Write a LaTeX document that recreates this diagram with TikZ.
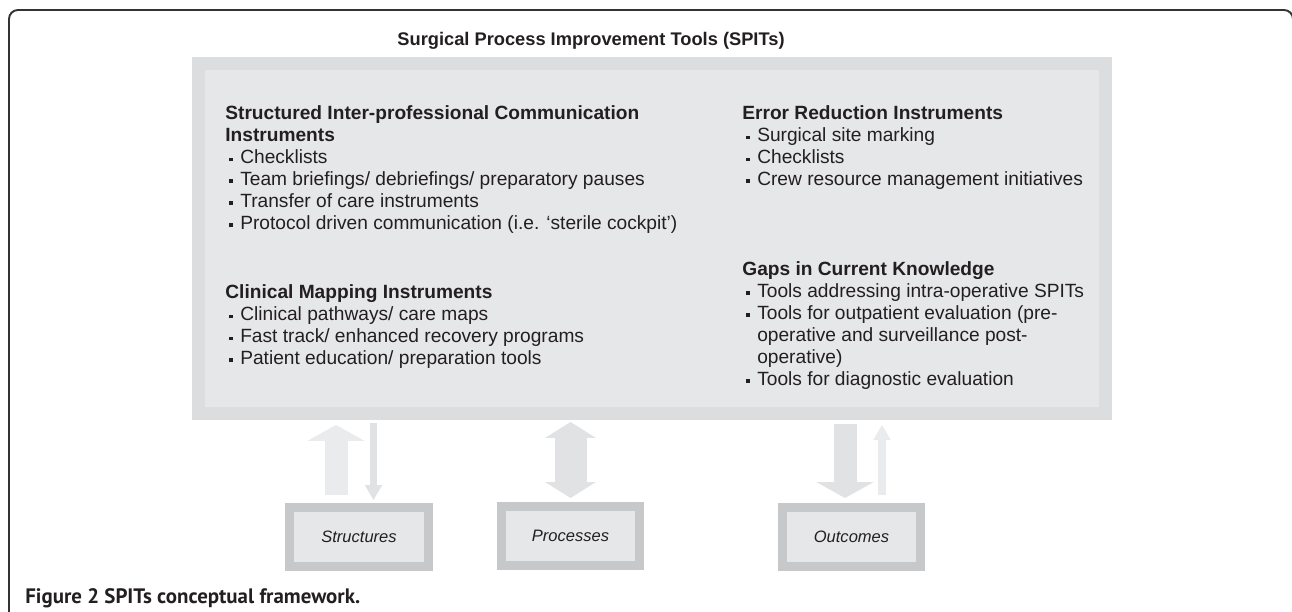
\documentclass[tikz,border=0pt]{standalone}
\usepackage{fontspec}
\setmainfont{Liberation Sans}
\newfontfamily\capfont{PT Sans}
\usetikzlibrary{arrows.meta}

\definecolor{framegrey}{HTML}{DCDDDF}
\definecolor{panelgrey}{HTML}{E6E7E8}
\definecolor{edgegrey}{HTML}{C7C8CA}
\definecolor{arrowlight}{HTML}{EAEBEC}
\definecolor{arrowgrey}{HTML}{E1E2E4}
\definecolor{inkgrey}{HTML}{231F20}

\newcommand{\bul}{\hspace*{2.3pt}\rule[1.3pt]{2.1pt}{2.1pt}\hspace*{4.1pt}}
\newcommand{\ind}{\hspace*{8.5pt}}

\tikzset{
  spitsbox/.style={draw=framegrey, fill=panelgrey, line width=0.26cm,
    minimum width=18.14cm, minimum height=7cm, inner sep=0pt},
  levelbox/.style={draw=edgegrey, fill=panelgrey, line width=0.18cm,
    minimum width=2.78cm, minimum height=1.18cm, inner sep=0pt,
    text=inkgrey, font=\fontsize{9.4pt}{11pt}\selectfont\itshape},
  listblock/.style={anchor=north west, inner sep=0pt, align=left,
    text=inkgrey, font=\fontsize{10.9pt}{12.5pt}\selectfont},
  fatarrow/.style={line width=0.46cm,
    -{Triangle[width=1.15cm, length=0.32cm, line width=0pt]}},
  slimarrow/.style={line width=0.15cm,
    -{Triangle[width=0.35cm, length=0.30cm, line width=0pt]}},
  twoway/.style={line width=0.64cm,
    {Triangle[width=1.02cm, length=0.32cm, line width=0pt]}-{Triangle[width=1.02cm, length=0.32cm, line width=0pt]}}
}

\begin{document}
\begin{tikzpicture}[x=0.02cm, y=-0.02cm]
  \useasboundingbox (0,0) rectangle (1292,612);
  % Draw the frame
  \draw[line width=1.1pt, color=black!80, rounded corners=0.18cm]
    (9,612) -- (9,10) -- (1293,10) -- (1293,30);
  % Draw the title
  \node[anchor=base, inner sep=0pt, text=inkgrey,
    font=\fontsize{10.4pt}{12pt}\selectfont\bfseries] (title) at (591,45.7)
    {Surgical Process Improvement Tools (SPITs)};
  % Draw the main box
  \node[spitsbox] (spits) at (652,238.5) {};
  % Draw the four groups of tools
  \node[listblock] (comm) at (225,103.9)
    {\rule{0pt}{0.8em}\textbf{Structured Inter-professional Communication}\\
     \textbf{Instruments}\\
     \bul Checklists\\
     \bul Team briefings/ debriefings/ preparatory pauses\\
     \bul Transfer of care instruments\\
     \bul Protocol driven communication (i.e. ‘sterile cockpit’)};
  \node[listblock] (mapping) at (225,282.9)
    {\rule{0pt}{0.8em}\textbf{Clinical Mapping Instruments}\\
     \bul Clinical pathways/ care maps\\
     \bul Fast track/ enhanced recovery programs\\
     \bul Patient education/ preparation tools};
  \node[listblock] (error) at (742,103.9)
    {\rule{0pt}{0.8em}\textbf{Error Reduction Instruments}\\
     \bul Surgical site marking\\
     \bul Checklists\\
     \bul Crew resource management initiatives};
  \node[listblock] (gaps) at (742,259.6)
    {\rule{0pt}{0.8em}\textbf{Gaps in Current Knowledge}\\
     \bul Tools addressing intra-operative SPITs\\
     \bul Tools for outpatient evaluation (pre-\\
     \ind operative and surveillance post-\\
     \ind operative)\\
     \bul Tools for diagnostic evaluation};
  % Draw the three levels
  \node[levelbox] (struct) at (359,537) {Structures};
  \node[levelbox] (proc) at (570.5,536) {Processes};
  \node[levelbox] (outc) at (851.5,537) {Outcomes};
  % Draw the arrows
  \coordinate (sup) at ([xshift=-0.46cm]struct.north);
  \coordinate (sdown) at ([xshift=0.29cm]struct.north);
  \coordinate (pmid) at (proc.north);
  \coordinate (odown) at ([xshift=-0.13cm]outc.north);
  \coordinate (oup) at ([xshift=0.61cm]outc.north);
  \draw[fatarrow, arrowlight, shorten <=0.16cm, shorten >=0.1cm] (sup) -- (sup |- spits.south);
  \draw[slimarrow, arrowgrey, shorten <=0.06cm, shorten >=0.06cm] (sdown |- spits.south) -- (sdown);
  \draw[twoway, arrowgrey, shorten <=0.04cm, shorten >=0.08cm] (pmid |- spits.south) -- (pmid);
  \draw[fatarrow, arrowgrey, shorten <=0.08cm, shorten >=0.1cm] (odown |- spits.south) -- (odown);
  \draw[slimarrow, arrowlight, shorten <=0.16cm, shorten >=0.1cm] (oup) -- (oup |- spits.south);
  % Draw the caption
  \node[anchor=base west, inner sep=0pt, text=inkgrey,
    font=\capfont\fontsize{11.9pt}{13pt}\selectfont\bfseries] (caption) at (25,603)
    {Figure 2 SPITs conceptual framework.};
\end{tikzpicture}
\end{document}
